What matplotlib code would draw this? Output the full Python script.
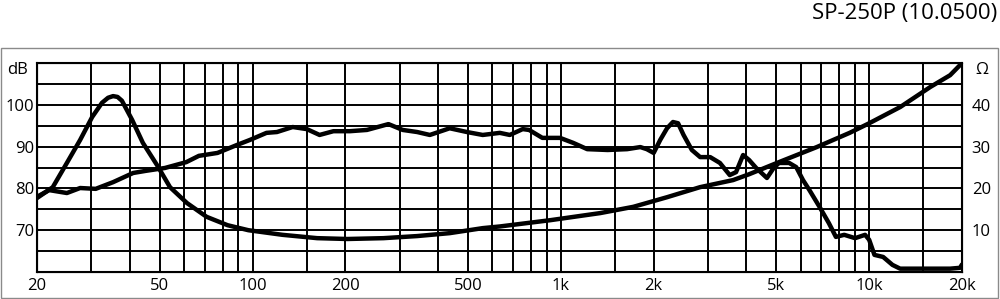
import matplotlib
matplotlib.use("Agg")
import matplotlib.pyplot as plt
from matplotlib.patches import Rectangle

plt.rcParams['font.family'] = ['Open Sans', 'DejaVu Sans']

title = "SP-250P (10.0500)"

# SPL curve (dB, left axis)
freq_spl = [20, 21.9, 25, 27.6, 31, 35.3, 41, 45, 52, 61, 67, 77, 89, 98,
            111, 120, 135, 150, 165, 183, 207, 235, 276, 307, 342, 376, 436, 496, 558, 634,
            683, 752, 789, 871, 994, 1097, 1218, 1418, 1640, 1810, 1900, 2000, 2100, 2210,
            2310, 2400, 2500, 2660, 2830, 3050, 3280, 3530, 3700, 3900, 4080,
            4300, 4660, 4900, 5100, 5500, 5800, 6100, 6400, 6900, 7400, 7800, 8300, 9000,
            9700, 10000, 10400, 11100, 11900, 12600, 18300, 19700, 20000]
spl_db = [78.0, 79.6, 78.9, 80.1, 79.9, 81.5, 83.7, 84.2, 84.9, 86.3, 87.8, 88.5, 90.4, 91.6,
          93.3, 93.5, 94.7, 94.2, 92.8, 93.7, 93.7, 94.0, 95.4, 94.0, 93.5, 92.8, 94.4, 93.5, 92.8, 93.3,
          92.8, 94.2, 94.0, 92.1, 92.1, 90.9, 89.4, 89.2, 89.4, 89.9, 89.4, 88.5, 91.6, 94.4,
          95.9, 95.6, 92.8, 89.2, 87.5, 87.5, 86.1, 83.2, 83.9, 88.0, 86.8,
          84.9, 82.5, 84.9, 86.1, 86.1, 85.1, 82.0, 79.6, 75.6, 71.7, 68.4, 68.9, 68.1,
          68.9, 67.7, 64.1, 63.6, 61.7, 60.8, 60.8, 61.0, 61.8]

# Impedance curve (Ohm, right axis)
freq_imp = [20, 22.5, 25, 27.6, 30.2, 32.5, 34, 35.3, 36.5, 37.7, 40.7, 44.1, 49, 54, 61.3, 71, 83, 97,
            125, 162, 203, 266, 342, 436, 558, 634, 924, 1342, 1718, 2210, 2826, 3620, 4080,
            5020, 6760, 8640, 10000, 12620, 15800, 18300, 20000]
imp_ohm = [17.7, 20.3, 26.1, 31.6, 37.1, 40.5, 41.7, 42.1, 41.9, 41.0, 36.4, 30.9, 25.6, 20.3, 16.5, 13.2, 11.2, 10.0,
           8.9, 8.1, 7.9, 8.1, 8.6, 9.3, 10.5, 10.9, 12.4, 14.1, 15.6, 17.9, 20.3, 22.0, 23.4,
           26.1, 29.9, 33.3, 35.6, 39.5, 44.3, 47.1, 50.0]

x_grid = [20, 30, 40, 50, 60, 70, 80, 90, 100, 150, 200, 300, 400, 500, 600, 700, 800, 900,
          1000, 1500, 2000, 3000, 4000, 5000, 6000, 7000, 8000, 9000, 10000, 15000, 20000]
x_ticks = [20, 50, 100, 200, 500, 1000, 2000, 5000, 10000, 20000]
x_labels = ["20", "50", "100", "200", "500", "1k", "2k", "5k", "10k", "20k"]
db_ticks = [70, 80, 90, 100]
ohm_ticks = [10, 20, 30, 40]

fig = plt.figure(figsize=(10, 2.99), dpi=100)
fig.patches.append(Rectangle((0.001, 0.005), 0.997, 0.835, transform=fig.transFigure,
                             fill=False, edgecolor='#8a8a8a', linewidth=1.0))

ax = fig.add_axes([0.037, 0.0903, 0.925, 0.6987])
ax.set_xscale('log')
ax.set_xlim(20, 20000)
ax.set_ylim(60, 110)

for xv in x_grid:
    ax.axvline(xv, color='black', linewidth=1.4, zorder=1)
for yv in range(60, 111, 5):
    ax.axhline(yv, color='black', linewidth=1.4, zorder=1)

ax.plot(freq_spl, spl_db, color='black', linewidth=3.2, solid_joinstyle='round',
        solid_capstyle='round', zorder=3)

ax.set_xticks(x_ticks)
ax.set_xticklabels(x_labels)
ax.xaxis.set_minor_locator(matplotlib.ticker.NullLocator())
ax.set_yticks(db_ticks)
ax.tick_params(axis='both', length=0, labelsize=12, colors='black')
ax.tick_params(axis='x', pad=4)
ax.tick_params(axis='y', pad=2)
for s in ax.spines.values():
    s.set_linewidth(1.5)

ax2 = ax.twinx()
ax2.set_ylim(0, 50)
ax2.plot(freq_imp, imp_ohm, color='black', linewidth=3.2, solid_joinstyle='round',
         solid_capstyle='round', zorder=3)
ax2.set_yticks(ohm_ticks)
ax2.tick_params(axis='y', length=0, labelsize=12, pad=7)
ax2.xaxis.set_minor_locator(matplotlib.ticker.NullLocator())

fig.text(0.018, 1 - 70 / 299, "dB", ha='center', va='center', fontsize=12)
fig.text(0.982, 1 - 70 / 299, "Ω", ha='center', va='center', fontsize=12)
fig.text(0.997, 1 - 14 / 299, title, ha='right', va='center', fontsize=16)

fig.savefig("out.png", dpi=100)
